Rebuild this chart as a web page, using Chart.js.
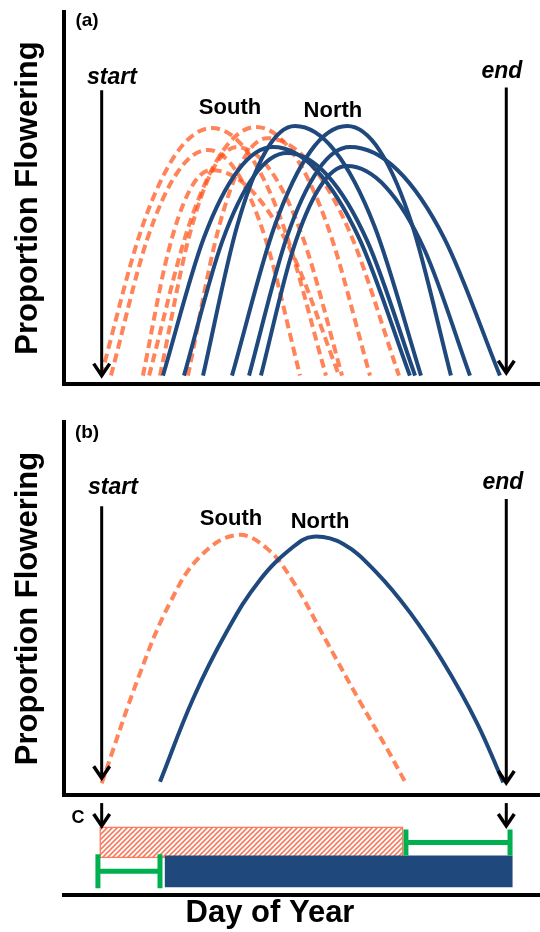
<!DOCTYPE html>
<html>
<head>
<meta charset="utf-8">
<script src="https://cdn.jsdelivr.net/npm/chart.js@4.4.0/dist/chart.umd.min.js"></script>
<style>
  html, body { margin: 0; padding: 0; background: #fff; overflow: hidden; }
  canvas { position: absolute; left: 0; }
</style>
</head>
<body>
<canvas id="chartA" width="540" height="400" style="top:0"></canvas>
<canvas id="chartB" width="540" height="400" style="top:400px"></canvas>
<canvas id="chartC" width="540" height="132" style="top:800px"></canvas>
<script>
// x = day of year, y = proportion flowering

// panel (a): several populations
const southDaysA = [
    [78.7, 99.4, 116.9, 134.6, 152.8, 170.8, 192.1],
    [83.7, 101.8, 117.1, 132.6, 147.3, 161.8, 179.0],
    [99.8, 112.5, 123.3, 134.1, 154.5, 174.8, 198.7],
    [102.9, 122.8, 139.8, 156.8, 175.0, 193.0, 214.3],
    [122.5, 137.3, 149.8, 162.4, 183.4, 204.3, 228.9],
    [108.4, 122.8, 134.9, 147.2, 164.0, 180.6, 200.2]
];
const southPropA = [
    [0, 0.531, 0.797, 0.885, 0.797, 0.531, 0],
    [0, 0.484, 0.726, 0.807, 0.726, 0.484, 0],
    [0, 0.441, 0.662, 0.735, 0.662, 0.441, 0],
    [0, 0.533, 0.800, 0.889, 0.800, 0.533, 0],
    [0, 0.509, 0.764, 0.849, 0.764, 0.509, 0],
    [0, 0.490, 0.735, 0.817, 0.735, 0.490, 0]
];
const northDaysA = [
    [109.9, 130.4, 147.9, 165.4, 187.2, 208.9, 234.4],
    [120.5, 139.7, 156.0, 172.4, 192.8, 213.1, 237.0],
    [130.1, 147.3, 161.8, 176.5, 196.6, 216.5, 240.0],
    [144.7, 166.2, 184.4, 202.7, 219.3, 235.7, 255.1],
    [153.3, 172.1, 188.1, 204.2, 228.1, 251.8, 279.8],
    [159.3, 175.4, 189.0, 202.7, 222.3, 241.8, 264.7]
];
const northPropA = [
    [0, 0.490, 0.735, 0.817, 0.735, 0.490, 0],
    [0, 0.478, 0.716, 0.796, 0.716, 0.478, 0],
    [0, 0.535, 0.803, 0.892, 0.803, 0.535, 0],
    [0, 0.535, 0.803, 0.892, 0.803, 0.535, 0],
    [0, 0.490, 0.735, 0.817, 0.735, 0.490, 0],
    [0, 0.449, 0.674, 0.749, 0.674, 0.449, 0]
];

// panel (b): one curve per region
const southDaysB = [79.0, 98.3, 113.4, 128.6, 147.1, 162.2, 175.6, 192.4, 209.2, 222.7, 232.8];
const southPropB = [0.012, 0.404, 0.655, 0.820, 0.897, 0.850, 0.730, 0.517, 0.303, 0.137, 0.006];
const northDaysB = [108.4, 125.2, 142.0, 158.8, 175.6, 185.7, 200.8, 217.6, 234.4, 251.1, 268.0, 281.5];
const northPropB = [0.017, 0.315, 0.552, 0.737, 0.855, 0.891, 0.865, 0.763, 0.621, 0.445, 0.230, 0.015];

// panel (c): flowering windows and gaps
const southBar = [78, 231];
const northBar = [111, 286];
const southGap = [232.4, 284.9];
const northGap = [77.1, 108.4];

const startDay = 79;
const endDay = 283;

const red = 'rgba(255, 80, 20, 0.7)';
const salmon = '#FA7B5E';
const blue = '#1F497D';
const green = '#00B050';
const family = '"Liberation Sans", Arial, sans-serif';

function pts(xs, ys) {
    return xs.map((d, i) => ({ x: d, y: ys[i] }));
}

function southLine(xs, ys, smooth) {
    return {
        data: pts(xs, ys), borderColor: red, borderWidth: 4, borderDash: [9, 5],
        pointRadius: 0, cubicInterpolationMode: smooth, tension: 0.4, order: 2
    };
}
function northLine(xs, ys, smooth) {
    return {
        data: pts(xs, ys), borderColor: blue, borderWidth: 4,
        pointRadius: 0, cubicInterpolationMode: smooth, tension: 0.4, order: 1
    };
}

// text and arrows, placed in data units
const notes = {
    id: 'notes',
    afterDraw(chart, args, opts) {
        const { ctx, scales: { x, y } } = chart;
        ctx.save();
        ctx.strokeStyle = '#000';
        (opts.arrows || []).forEach(a => {
            const px = x.getPixelForValue(a.day);
            const y0 = y.getPixelForValue(a.from);
            const y1 = y.getPixelForValue(a.to);
            ctx.lineWidth = 3;
            ctx.beginPath(); ctx.moveTo(px, y0); ctx.lineTo(px, y1 - 2); ctx.stroke();
            ctx.lineWidth = 3.5;
            ctx.beginPath();
            ctx.moveTo(px - 8, y1 - 12); ctx.lineTo(px, y1); ctx.lineTo(px + 8, y1 - 12);
            ctx.stroke();
        });
        (opts.labels || []).forEach(l => {
            ctx.font = l.font;
            ctx.fillStyle = '#000';
            ctx.textAlign = 'center';
            ctx.textBaseline = 'middle';
            ctx.fillText(l.text, x.getPixelForValue(l.day), y.getPixelForValue(l.prop));
        });
        ctx.restore();
    }
};

const bold = size => 'bold ' + size + 'px ' + family;
const boldItalic = size => 'italic bold ' + size + 'px ' + family;

function panelOptions(pad, notesCfg) {
    return {
        responsive: false,
        animation: false,
        layout: { padding: pad, autoPadding: false },
        scales: {
            x: {
                type: 'linear', min: 60, max: 300,
                ticks: { display: false },
                grid: { display: false, drawTicks: false },
                border: { display: true, width: 4, color: '#000' }
            },
            y: {
                type: 'linear', min: -0.03, max: 1.3,
                ticks: { display: false },
                grid: { display: false, drawTicks: false },
                border: { display: true, width: 4, color: '#000' },
                title: {
                    display: true, text: 'Proportion Flowering', color: '#000',
                    font: { family: family, size: 31, weight: 'bold' },
                    padding: { top: 0, bottom: 16.8 }
                }
            }
        },
        plugins: { legend: { display: false }, tooltip: { enabled: false }, notes: notesCfg }
    };
}

// panel (a)
new Chart(document.getElementById('chartA'), {
    type: 'line',
    data: {
        datasets: northDaysA.map((d, i) => northLine(d, northPropA[i], 'monotone'))
            .concat(southDaysA.map((d, i) => southLine(d, southPropA[i], 'monotone')))
    },
    options: panelOptions({ left: 10, top: 12, right: 0, bottom: 16 }, {
        arrows: [{ day: startDay, from: 1.02, to: 0.0 }, { day: endDay, from: 1.03, to: 0.01 }],
        labels: [
            { text: '(a)', day: 71.6, prop: 1.27, font: bold(19) },
            { text: 'start', day: 84.2, prop: 1.067, font: boldItalic(23) },
            { text: 'end', day: 280.8, prop: 1.085, font: boldItalic(23) },
            { text: 'South', day: 143.7, prop: 0.957, font: bold(22) },
            { text: 'North', day: 195.6, prop: 0.946, font: bold(22) }
        ]
    }),
    plugins: [notes]
});

// panel (b)
new Chart(document.getElementById('chartB'), {
    type: 'line',
    data: {
        datasets: [
            northLine(northDaysB, northPropB, 'default'),
            southLine(southDaysB, southPropB, 'default')
        ]
    },
    options: panelOptions({ left: 10, top: 22, right: 0, bottom: 5 }, {
        arrows: [{ day: startDay, from: 1.0, to: 0.03 }, { day: endDay, from: 1.025, to: 0.013 }],
        labels: [
            { text: '(b)', day: 71.6, prop: 1.261, font: bold(19) },
            { text: 'start', day: 84.7, prop: 1.065, font: boldItalic(23) },
            { text: 'end', day: 281.3, prop: 1.082, font: boldItalic(23) },
            { text: 'South', day: 144.2, prop: 0.954, font: bold(22) },
            { text: 'North', day: 189.1, prop: 0.943, font: bold(22) }
        ]
    }),
    plugins: [notes]
});

// hatch for the South window
function hatch() {
    const c = document.createElement('canvas');
    c.width = 5; c.height = 5;
    const g = c.getContext('2d');
    g.fillStyle = '#fff';
    g.fillRect(0, 0, 5, 5);
    g.strokeStyle = 'rgba(245, 110, 80, 0.9)';
    g.lineWidth = 1.6;
    g.beginPath();
    g.moveTo(0, 5); g.lineTo(5, 0);
    g.moveTo(-1, 1); g.lineTo(1, -1);
    g.moveTo(4, 6); g.lineTo(6, 4);
    g.stroke();
    return g.createPattern(c, 'repeat');
}

// panel (c): rows South = 2, North = 1
new Chart(document.getElementById('chartC'), {
    type: 'line',
    data: {
        datasets: [
            {
                type: 'line', data: [{ x: southGap[0], y: 2 }, { x: southGap[1], y: 2 }],
                borderColor: green, borderWidth: 5, pointStyle: 'line', pointRotation: 90,
                pointRadius: 13, pointBorderWidth: 5, pointBorderColor: green, order: 1
            },
            {
                type: 'line', data: [{ x: northGap[0], y: 1 }, { x: northGap[1], y: 1 }],
                borderColor: green, borderWidth: 5, pointStyle: 'line', pointRotation: 90,
                pointRadius: 17, pointBorderWidth: 5, pointBorderColor: green, order: 1
            },
            {
                type: 'bar', indexAxis: 'y',
                data: [{ x: southBar, y: 2 }, { x: northBar, y: 1 }],
                backgroundColor: [hatch(), blue],
                borderColor: [salmon, blue],
                borderWidth: [1.5, 0],
                borderSkipped: false,
                barThickness: 31,
                order: 2
            }
        ]
    },
    options: {
        responsive: false,
        animation: false,
        layout: { padding: { left: 0, top: 0, right: 0, bottom: 0 }, autoPadding: false },
        scales: {
            x: {
                type: 'linear', min: 60, max: 300,
                ticks: { display: false },
                grid: { display: false, drawTicks: false },
                border: { display: true, width: 4, color: '#000' }
            },
            y: {
                type: 'linear', min: 0.19, max: 3.466, offset: false,
                ticks: { display: false },
                grid: { display: false, drawTicks: false },
                border: { display: false },
                afterFit: s => { s.width = 64; }
            }
        },
        plugins: {
            legend: { display: false },
            tooltip: { enabled: false },
            title: {
                display: true, position: 'bottom', text: 'Day of Year', color: '#000',
                font: { family: family, size: 31, weight: 'bold' },
                padding: { top: 0, bottom: 0 }
            },
            notes: {
                arrows: [{ day: startDay, from: 3.36, to: 2.57 }, { day: endDay, from: 3.36, to: 2.57 }],
                labels: [{ text: 'C', day: 67.1, prop: 2.845, font: bold(18) }]
            }
        }
    },
    plugins: [notes]
});
</script>
</body>
</html>
